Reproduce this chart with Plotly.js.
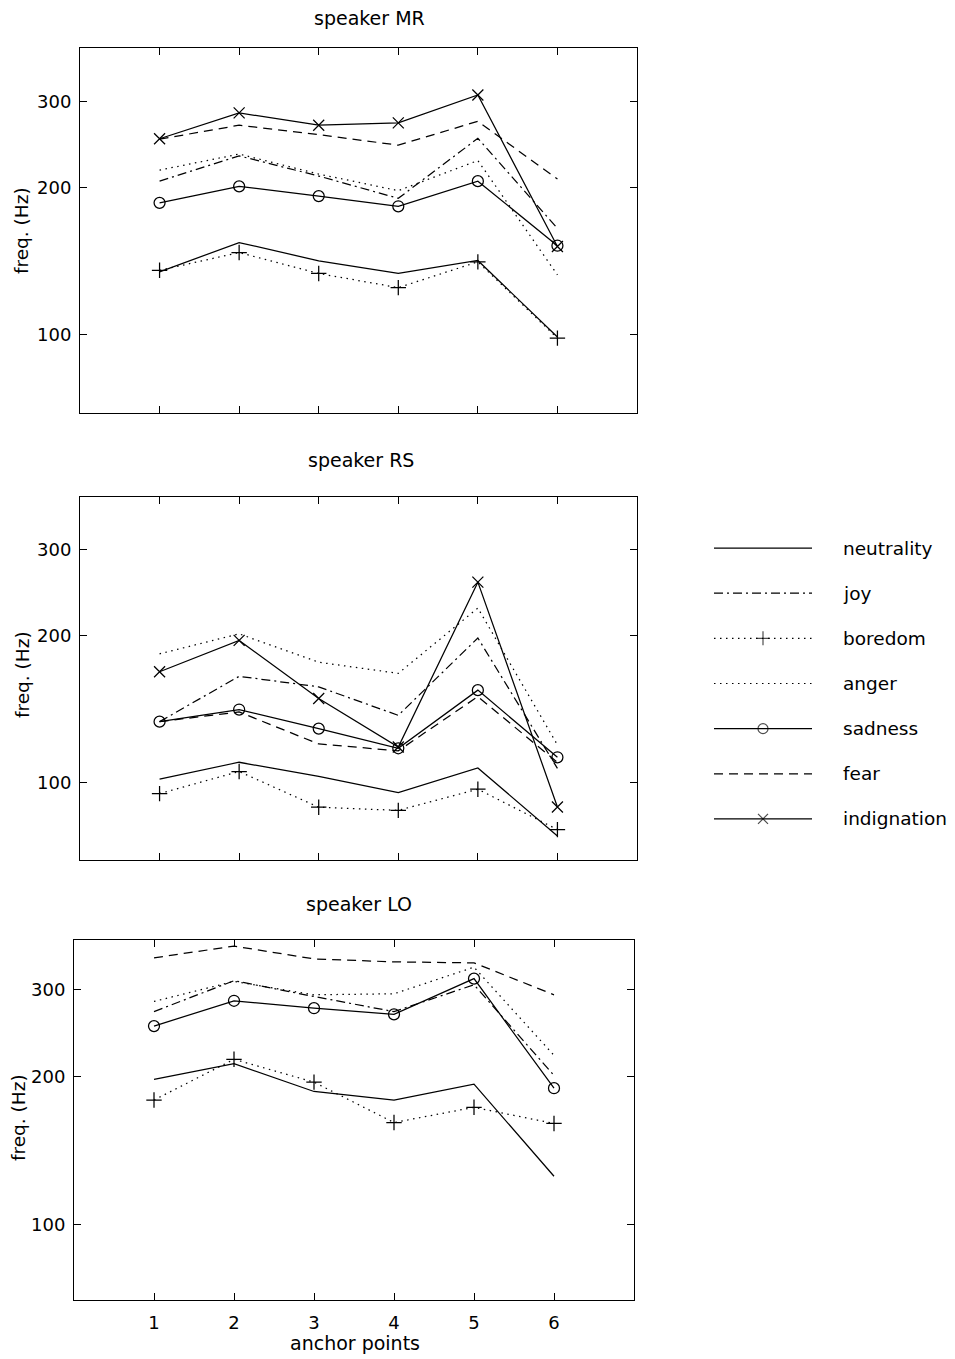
<!DOCTYPE html>
<html>
<head>
<meta charset="utf-8">
<script src="https://cdn.plot.ly/plotly-3.0.1.min.js"></script>
<style>html,body{margin:0;padding:0;background:#fff;}#chart{width:955px;height:1359px;}</style>
</head>
<body>
<div id="chart"></div>
<script>
// ---- data ----
const anchors = [1, 2, 3, 4, 5, 6];
const anchorLabels = ['1', '2', '3', '4', '5', '6'];
const yTicks = [100, 200, 300];
const yTickText = ['100', '200', '300'];
const emotions = ['neutrality', 'joy', 'boredom', 'anger', 'sadness', 'fear', 'indignation'];
const speakers = ['speaker MR', 'speaker RS', 'speaker LO'];

// speaker MR
const mrNeutrality  = [134.4, 154.3, 141.6, 133.4, 141.8, 98.9];
const mrJoy         = [206, 232, 211, 190, 252, 165];
const mrBoredom     = [135.4, 147.2, 133.4, 124.8, 140.9, 98.4];
const mrAnger       = [217, 234, 213, 197, 227, 132.5];
const mrSadness     = [186, 201, 192, 183, 206, 152];
const mrFear        = [251, 268, 256.5, 244, 273, 208];
const mrIndignation = [251.5, 284, 268, 271, 309, 151.5];

// speaker RS
const rsNeutrality  = [101.7, 110.1, 103, 95.5, 107.2, 77.8];
const rsJoy         = [133.3, 165, 157, 137.3, 197.6, 107];
const rsBoredom     = [95, 105.4, 89.1, 87.8, 97, 80.2];
const rsAnger       = [183.4, 201.5, 176.3, 167.3, 227.5, 119.5];
const rsSadness     = [133.3, 141.1, 129, 117.6, 154.6, 112.7];
const rsFear        = [133.3, 139.5, 120, 116.2, 150, 110];
const rsIndignation = [168.6, 195.4, 148.6, 118.3, 257, 89.2];

// speaker LO (no indignation curve)
const loNeutrality  = [197, 212.1, 186.2, 178.9, 192.7, 125.2];
const loJoy         = [270.6, 312.8, 290.5, 270.6, 306.9, 200.7];
const loBoredom     = [178.9, 216.5, 194.5, 161, 172.9, 160.3];
const loAnger       = [283.8, 311.8, 292.8, 294.2, 333.2, 220.5];
const loSadness     = [252.9, 284.7, 275, 267.2, 315.8, 189.1];
const loFear        = [348.1, 367.8, 346.4, 341.6, 340, 292.8];

// ---- styles ----
const FONT = '"DejaVu Sans", "Liberation Sans", Arial, sans-serif';
const styles = {
  neutrality:  {dash: 'solid', symbol: null},
  joy:         {dash: '9px,4px,2px,4px', symbol: null},
  boredom:     {dash: '1.5px,4.5px', symbol: 'cross-thin-open'},
  anger:       {dash: '1.5px,4.5px', symbol: null},
  sadness:     {dash: 'solid', symbol: 'circle-open'},
  fear:        {dash: '9px,6px', symbol: null},
  indignation: {dash: 'solid', symbol: 'x-thin-open'}
};
const markerSize = {'cross-thin-open': 11, 'circle-open': 11, 'x-thin-open': 11};

const panelSeries = [
  {neutrality: mrNeutrality, joy: mrJoy, boredom: mrBoredom, anger: mrAnger, sadness: mrSadness, fear: mrFear, indignation: mrIndignation},
  {neutrality: rsNeutrality, joy: rsJoy, boredom: rsBoredom, anger: rsAnger, sadness: rsSadness, fear: rsFear, indignation: rsIndignation},
  {neutrality: loNeutrality, joy: loJoy, boredom: loBoredom, anger: loAnger, sadness: loSadness, fear: loFear}
];

const W = 955, H = 1359;
const px = v => v / W;
const py = v => 1 - v / H;

const traces = [];
panelSeries.forEach((series, p) => {
  const sx = p === 0 ? 'x' : 'x' + (p + 1);
  const sy = p === 0 ? 'y' : 'y' + (p + 1);
  emotions.forEach(em => {
    if (!series[em]) return;
    const st = styles[em];
    const tr = {
      type: 'scatter', x: anchors, y: series[em], xaxis: sx, yaxis: sy,
      mode: st.symbol ? 'lines+markers' : 'lines', name: em, showlegend: false,
      line: {color: '#000', width: 1.25, dash: st.dash},
      hoverinfo: 'skip'
    };
    if (st.symbol) tr.marker = {symbol: st.symbol, size: markerSize[st.symbol], color: '#000', line: {color: '#000', width: 1.25}};
    traces.push(tr);
  });
});

// legend samples drawn in their own hidden axes
emotions.forEach((em, i) => {
  const st = styles[em];
  const tr = {
    type: 'scatter', x: [0, 0.5, 1], y: [i, i, i], xaxis: 'x4', yaxis: 'y4',
    mode: st.symbol ? 'lines+markers' : 'lines', showlegend: false, hoverinfo: 'skip',
    line: {color: '#000', width: 1.2, dash: st.dash}
  };
  if (st.symbol) tr.marker = {symbol: st.symbol, size: [0, markerSize[st.symbol] - 1, 0], color: '#000', line: {color: '#000', width: 1.2}};
  traces.push(tr);
});

function yAxis(top, bottom, anchor, lo, hi) {
  return {
    type: 'log', range: [lo, hi], domain: [py(bottom), py(top)], anchor: anchor,
    tickvals: yTicks, ticktext: yTickText, ticks: 'inside', ticklen: 7, tickwidth: 1, tickcolor: '#000',
    showline: true, linecolor: '#000', linewidth: 1, mirror: 'ticks',
    showgrid: false, zeroline: false, ticklabelstandoff: 4,
    tickfont: {family: FONT, size: 18, color: '#000'}
  };
}
function xAxis(left, right, anchor, labels) {
  return {
    range: [0, 7], domain: [px(left), px(right)], anchor: anchor,
    tickvals: anchors, ticktext: anchorLabels, showticklabels: labels,
    ticks: 'inside', ticklen: 7, tickwidth: 1, tickcolor: '#000',
    showline: true, linecolor: '#000', linewidth: 1, mirror: 'ticks',
    showgrid: false, zeroline: false, ticklabelstandoff: 6,
    tickfont: {family: FONT, size: 18, color: '#000'}
  };
}

const annotations = [];
const titleY = [18, 460, 904];
const titleX = [369, 361, 359];
speakers.forEach((s, i) => {
  annotations.push({text: s, x: px(titleX[i]), y: py(titleY[i]), xref: 'paper', yref: 'paper',
    showarrow: false, xanchor: 'center', yanchor: 'middle', font: {family: FONT, size: 19, color: '#000'}});
});
const freqY = [231, 675, 1118];
const freqX = [22, 22, 18];
freqY.forEach((v, i) => {
  annotations.push({text: 'freq. (Hz)', x: px(freqX[i]), y: py(v), xref: 'paper', yref: 'paper', textangle: -90,
    showarrow: false, xanchor: 'center', yanchor: 'middle', font: {family: FONT, size: 18.5, color: '#000'}});
});
annotations.push({text: 'anchor points', x: px(355), y: py(1343), xref: 'paper', yref: 'paper',
  showarrow: false, xanchor: 'center', yanchor: 'middle', font: {family: FONT, size: 19, color: '#000'}});
emotions.forEach((em, i) => {
  annotations.push({text: em, x: px(841), y: i, xref: 'paper', yref: 'y4',
    showarrow: false, xanchor: 'left', yanchor: 'middle', font: {family: FONT, size: 18.5, color: '#000'}});
});

const layout = {
  width: W, height: H, margin: {l: 0, r: 0, t: 0, b: 0},
  paper_bgcolor: '#fff', plot_bgcolor: '#fff', showlegend: false,
  xaxis: xAxis(80, 637, 'y', false),
  yaxis: yAxis(48, 413, 'x', 1.840, 2.586),
  xaxis2: xAxis(80, 637, 'y2', false),
  yaxis2: yAxis(497, 860, 'x2', 1.842, 2.584),
  xaxis3: xAxis(74, 634, 'y3', true),
  yaxis3: yAxis(940, 1300, 'x3', 1.846, 2.578),
  xaxis4: {domain: [px(714), px(812)], range: [0, 1], anchor: 'y4', visible: false, fixedrange: true},
  yaxis4: {domain: [py(841.5), py(525.5)], range: [6.5, -0.5], anchor: 'x4', visible: false, fixedrange: true},
  annotations: annotations
};

Plotly.newPlot('chart', traces, layout, {staticPlot: true, displayModeBar: false});
</script>
</body>
</html>
